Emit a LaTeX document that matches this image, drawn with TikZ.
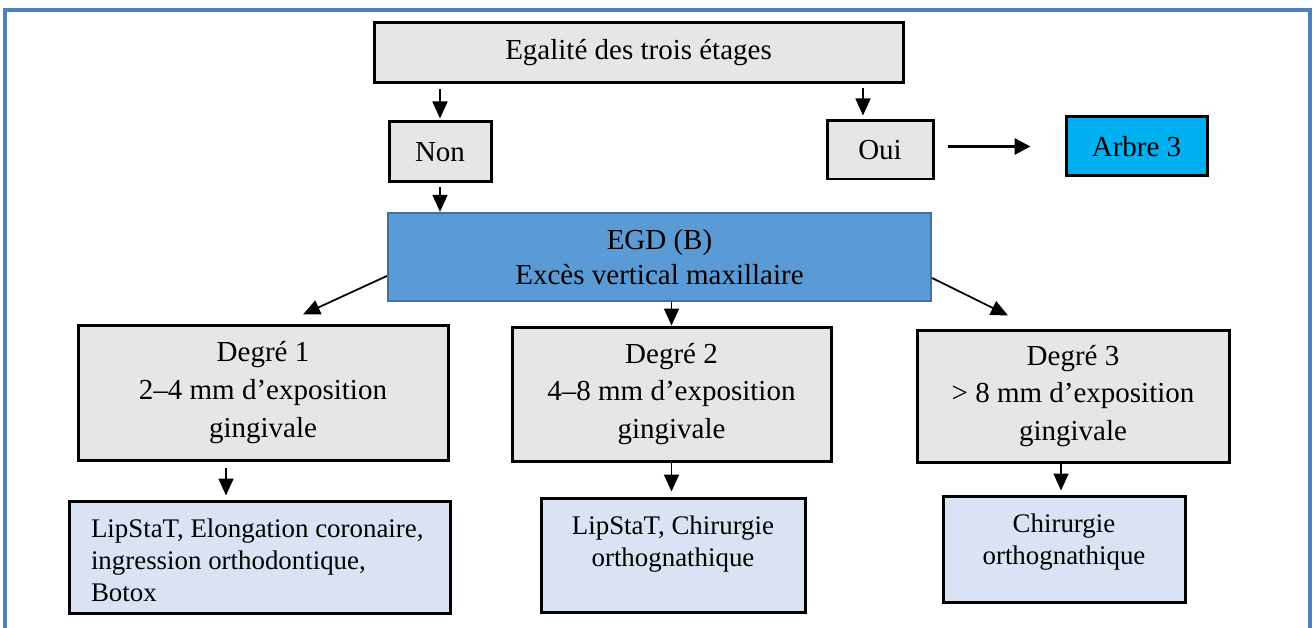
\documentclass[tikz,border=0pt]{standalone}
\usepackage{fontspec}
\setmainfont{Liberation Serif}
\usetikzlibrary{arrows.meta}
\definecolor{framecol}{RGB}{79,129,189}
\definecolor{egdblue}{RGB}{91,155,213}
\definecolor{egdline}{RGB}{65,113,156}
\definecolor{arbrecol}{RGB}{0,176,240}
\definecolor{treatcol}{RGB}{218,227,243}
\definecolor{boxgrey}{RGB}{230,230,230}

\begin{document}
\begin{tikzpicture}[>={Triangle[width=0.3cm, length=0.34cm]},
    box/.style={draw, line width=0.06cm, fill=boxgrey, align=center, inner sep=0pt, font=\fontsize{16.5}{21.4}\selectfont},
    treat/.style={draw, line width=0.06cm, fill=treatcol, inner xsep=0.2cm, inner ysep=0.36cm, font=\fontsize{15.3}{18.2}\selectfont},
    arr/.style={->, line width=0.035cm}]
    \useasboundingbox (0,0) rectangle (26.26,-12.56);
    % outer frame, open at the bottom
    \draw[framecol, line width=0.07cm] (0.10,-12.56) -- (0.10,-0.20) -- (26.20,-0.20) -- (26.20,-12.56);

    % Egalite des trois etages ?
    \node[box, minimum width=10.58cm, minimum height=1.20cm] (etages) at (12.77,-1.06) {Egalité des trois étages};
    \node[box, minimum width=2.04cm, minimum height=1.20cm] (non) at (8.80,-3.04) {Non};
    \node[box, minimum width=2.12cm, minimum height=1.16cm] (oui) at (17.60,-3.00) {Oui};
    \node[box, fill=arbrecol, minimum width=2.82cm, minimum height=1.18cm] (arbre) at (22.73,-2.93) {Arbre 3};

    \draw[arr, shorten <=0.1cm, shorten >=0.04cm] (etages.south -| non.north) -- (non.north);
    \draw[arr, shorten <=0.08cm, shorten >=0.08cm] ([xshift=-0.34cm]oui.north |- etages.south) -- ([xshift=-0.34cm]oui.north);
    \draw[-{Triangle[width=0.32cm, length=0.32cm]}, line width=0.065cm, shorten <=0.26cm, shorten >=0.68cm] (oui.east |- arbre.west) -- (arbre.west);

    % EGD
    \node[box, fill=egdblue, draw=egdline, line width=0.045cm, minimum width=10.86cm, minimum height=1.76cm, font=\fontsize{16.5}{19.9}\selectfont] (egd) at (13.19,-5.14) {EGD (B)\\Excès vertical maxillaire};
    \draw[arr, shorten <=0.08cm] (non.south) -- (non.south |- egd.north);

    % Degres
    \node[box, minimum width=7.40cm, minimum height=2.70cm] (deg1) at (5.26,-7.85) {Degré 1\\2–4 mm d’exposition\\gingivale};
    \node[box, minimum width=6.38cm, minimum height=2.68cm] (deg2) at (13.43,-7.88) {Degré 2\\4–8 mm d’exposition\\gingivale};
    \node[box, minimum width=6.24cm, minimum height=2.64cm] (deg3) at (21.46,-7.92) {Degré 3\\> 8 mm d’exposition\\gingivale};

    \draw[arr] ([yshift=-0.38cm]egd.west) -- ([xshift=0.80cm, yshift=0.18cm]deg1.north);
    \draw[arr] (egd.south -| deg2.north) -- (deg2.north);
    \draw[arr] ([yshift=-0.42cm]egd.east) -- ([xshift=-1.30cm, yshift=0.26cm]deg3.north);

    % Traitements
    \node[treat, minimum width=7.62cm, minimum height=2.24cm, inner xsep=0.44cm] (trt1) at (5.19,-11.14) {\parbox[c][1.52cm][t]{6.74cm}{\raggedright LipStaT, Elongation coronaire,\\ingression orthodontique,\\Botox}};
    \node[treat, minimum width=5.28cm, minimum height=2.28cm] (trt2) at (13.46,-11.10) {\parbox[c][1.56cm][t]{4.88cm}{\centering LipStaT, Chirurgie\\orthognathique}};
    \node[treat, minimum width=4.84cm, minimum height=2.12cm] (trt3) at (21.28,-10.98) {\parbox[c][1.40cm][t]{4.44cm}{\centering Chirurgie\\orthognathique}};

    \draw[arr, shorten <=0.12cm, shorten >=0.08cm] ([xshift=-0.74cm]deg1.south) -- ([xshift=-0.74cm]deg1.south |- trt1.north);
    \draw[arr, shorten >=0.10cm] (deg2.south) -- (deg2.south |- trt2.north);
    \draw[arr, shorten >=0.08cm] ([xshift=-0.24cm]deg3.south) -- ([xshift=-0.24cm]deg3.south |- trt3.north);
\end{tikzpicture}
\end{document}
